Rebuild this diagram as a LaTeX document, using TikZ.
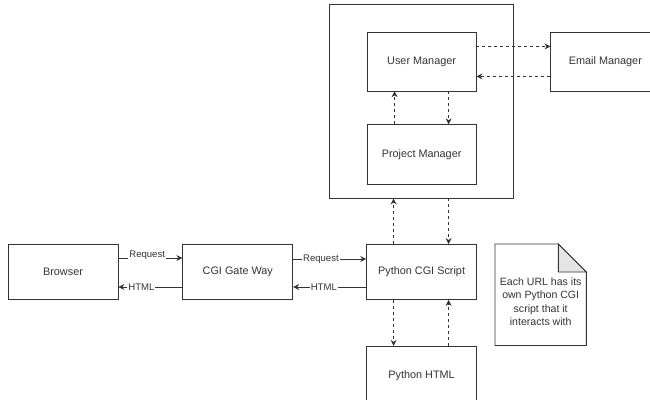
\documentclass[tikz,border=0pt]{standalone}
\usepackage{fontspec}
\setmainfont{Liberation Sans}
\usetikzlibrary{positioning, calc, quotes, arrows.meta, fit}
\definecolor{ink}{HTML}{333333}
\tikzset{
  every edge quotes/.style = {fill = white, inner sep = 1pt, text = ink,
    font = \fontsize{9.6}{11}\selectfont},
  > = {Stealth[length = 2.1mm, width = 2.1mm]},
  block/.style = {draw = ink, line width = 0.8pt, text = ink, inner sep = 0,
    minimum width = 110bp, minimum height = 55bp,
    font = \fontsize{10.9}{13}\selectfont},
  manager/.style = {block, minimum width = 109bp, minimum height = 59bp},
  link/.style = {->, color = ink, line width = 0.8pt},
  call/.style = {link, dash pattern = on 3bp off 3bp},
  memo/.style = {draw = ink, line width = 0.8pt}
}
\begin{document}
\begin{tikzpicture}
\useasboundingbox (0,0) rectangle (650bp,400bp);

%% Request chain
\node [block] (browser) at (63bp,128bp) {Browser};
\node [block] (gateway) [right = 64bp of browser] {CGI Gate Way};
\node [block] (script) [right = 73bp of gateway] {Python CGI Script};
\node [block, minimum height = 60bp, text depth = 4bp] (pyhtml) [below = 46bp of script] {Python HTML};

%% Managers
\node [manager, minimum height = 60bp] (project) [above = 59bp of script] {Project Manager};
\node [manager] (user) [above = 33bp of project] {User Manager};
\node [manager] (email) [right = 74bp of user] {Email Manager};
\node [draw = ink, line width = 0.8pt, inner sep = 0,
  fit = {([xshift = -37bp, yshift = 27bp]user.north west)
         ([xshift = 37bp, yshift = -13bp]project.south east)}] (core) {};

%% Request / response
\path [link] ([yshift = 14bp]browser.east) edge ["Request" {pos = 0.45, yshift = 3bp}] ([yshift = 14bp]gateway.west);
\path [link] ([yshift = -15bp]gateway.west) edge ["HTML" {pos = 0.64}] ([yshift = -15bp]browser.east);
\path [link] ([yshift = 13bp]gateway.east) edge ["Request" {pos = 0.38}] ([yshift = 13bp]script.west);
\path [link] ([yshift = -15bp]script.west) edge ["HTML" {pos = 0.58}] ([yshift = -15bp]gateway.east);

%% Calls
\path [call] ([yshift = 15bp]user.east) edge ([yshift = 15bp]email.west);
\path [call] ([yshift = -15bp]email.west) edge ([yshift = -15bp]user.east);
\path [call] ([xshift = 27bp]user.south) edge ([xshift = 27bp]project.north);
\path [call] ([xshift = -27bp]project.north) edge ([xshift = -27bp]user.south);
\path [call] ([xshift = -28bp]script.north) edge ([xshift = -28bp]script.north |- core.south);
\path [call] ([xshift = 27bp]script.north |- core.south) edge ([xshift = 27bp]script.north);
\path [call] ([xshift = -28bp]script.south) edge ([xshift = -28bp]pyhtml.north);
\path [call] ([xshift = 27bp]pyhtml.north) edge ([xshift = 27bp]script.south);

%% Note
\node [minimum width = 91bp, minimum height = 101bp, inner sep = 0] (note)
  [right = 18bp of script.north east, anchor = north west] {};
\draw [memo, fill = white] (note.north west) -- ($(note.north east) + (-28bp,0)$)
  -- ($(note.north east) + (0,-28bp)$) -- (note.south east) -- (note.south west) -- cycle;
\draw [memo, fill = black!10] ($(note.north east) + (-28bp,0)$)
  -- ($(note.north east) + (-28bp,-28bp)$) -- ($(note.north east) + (0,-28bp)$) -- cycle;
\node [align = center, text = ink, font = \fontsize{10.6}{13.3}\selectfont] (memotext)
  at ([yshift = -7bp]note.center) {Each URL has its\\own Python CGI\\script that it\\interacts with};
\end{tikzpicture}
\end{document}
